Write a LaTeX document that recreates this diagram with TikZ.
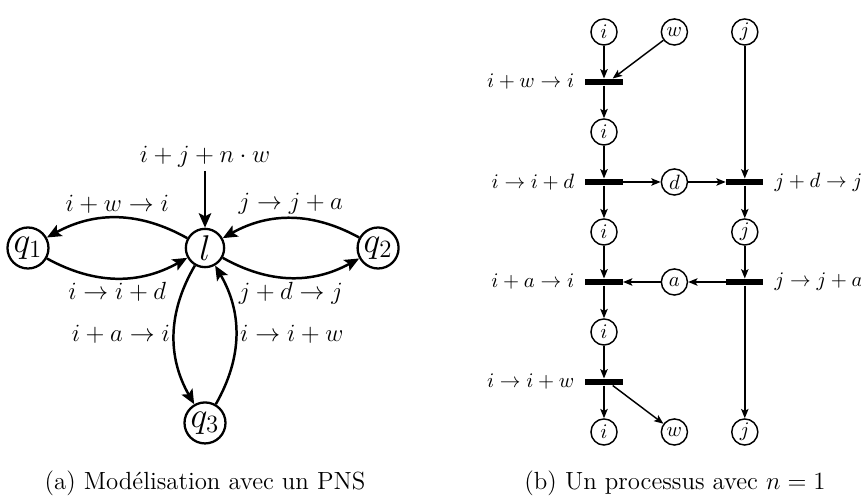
\documentclass[tikz,border=0pt]{standalone}
\usepackage{tikz}
\usetikzlibrary{positioning,arrows.meta}

\begin{document}
\begin{tikzpicture}[x=0.483pt, y=-0.483pt, node distance=24.15pt, on grid,
  big/.style={draw, circle, line width=1.1pt, minimum size=18.5pt, inner sep=0.8pt, font=\LARGE},
  place/.style={draw, circle, line width=0.7pt, minimum size=12.6pt, inner sep=0.5pt},
  bar/.style={rectangle, fill=black, minimum width=18pt, minimum height=3pt, inner sep=0pt},
  arc/.style={-{Stealth[length=7pt, width=6pt, inset=1.5pt]}, line width=1.2pt},
  flow/.style={-{Stealth[length=4.5pt, width=3.6pt, inset=1pt]}, line width=0.7pt},
  biglbl/.style={font=\large, inner sep=1.5pt},
  lbl/.style={inner sep=2pt},
  caption/.style={font=\large}]
\useasboundingbox (0,0) rectangle (861,496);
\node[big] (l) at (205,248) {$l$};
\node[big, left=85.5pt of l] (q1) {$q_1$};
\node[big, right=83.6pt of l] (q2) {$q_2$};
\node[big, below=84.5pt of l] (q3) {$q_3$};
\node[biglbl, above=44pt of l] (init) {$i+j+n\cdot w$};
\draw[arc] (init) -- (l);
\draw[arc] (l) to[bend right=29] node[biglbl, above] {$i+w\rightarrow i$} (q1);
\draw[arc] (q1) to[bend right=29] node[biglbl, below] {$i\rightarrow i+d$} (l);
\draw[arc] (q2) to[bend right=29] node[biglbl, above] {$j\rightarrow j+a$} (l);
\draw[arc] (l) to[bend right=29] node[biglbl, below] {$j+d\rightarrow j$} (q2);
\draw[arc] (l) to[bend right=30] node[biglbl, left] {$i+a\rightarrow i$} (q3);
\draw[arc] (q3) to[bend right=30] node[biglbl, right] {$i\rightarrow i+w$} (l);
\node[caption] (capa) at (205,483) {(a) Modélisation avec un PNS};
\node[place] (i0) at (604,32) {$i$};
\node[place, right=34pt of i0] (w0) {$w$};
\node[place, right=34pt of w0] (j0) {$j$};
\node[bar, below=of i0] (t1) {};
\node[place, below=of t1] (i1) {$i$};
\node[bar, below=of i1] (t2) {};
\node[place, right=34pt of t2] (d) {$d$};
\node[bar, right=68pt of t2] (t2r) {};
\node[place, below=of t2] (i2) {$i$};
\node[place, below=of t2r] (j2) {$j$};
\node[bar, below=of i2] (t3) {};
\node[place, right=34pt of t3] (a) {$a$};
\node[bar, below=of j2] (t3r) {};
\node[place, below=of t3] (i3) {$i$};
\node[bar, below=of i3] (t4) {};
\node[place, below=of t4] (i4) {$i$};
\node[place, right=34pt of i4] (w4) {$w$};
\node[place, right=68pt of i4] (j4) {$j$};
\node[lbl, on grid=false, left=3pt of t1] (lt1) {$i+w\rightarrow i$};
\node[lbl, on grid=false, left=3pt of t2] (lt2) {$i\rightarrow i+d$};
\node[lbl, on grid=false, left=3pt of t3] (lt3) {$i+a\rightarrow i$};
\node[lbl, on grid=false, left=3pt of t4] (lt4) {$i\rightarrow i+w$};
\node[lbl, on grid=false, right=3pt of t2r] (lt2r) {$j+d\rightarrow j$};
\node[lbl, on grid=false, right=3pt of t3r] (lt3r) {$j\rightarrow j+a$};
\coordinate (t1w) at ([xshift=-5pt]t1.north east);
\coordinate (t4w) at ([xshift=-5pt]t4.south east);
\draw[flow] (i0) -- (t1);
\draw[flow] (w0) -- (t1w);
\draw[flow] (t1) -- (i1);
\draw[flow] (i1) -- (t2);
\draw[flow] (t2) -- (d);
\draw[flow] (d) -- (t2r);
\draw[flow] (j0) -- (t2r);
\draw[flow] (t2) -- (i2);
\draw[flow] (t2r) -- (j2);
\draw[flow] (i2) -- (t3);
\draw[flow] (j2) -- (t3r);
\draw[flow] (t3r) -- (a);
\draw[flow] (a) -- (t3);
\draw[flow] (t3) -- (i3);
\draw[flow] (t3r) -- (j4);
\draw[flow] (i3) -- (t4);
\draw[flow] (t4) -- (i4);
\draw[flow] (t4w) -- (w4);
\node[caption] (capb) at (675,483) {(b) Un processus avec $n=1$};
\end{tikzpicture}
\end{document}
